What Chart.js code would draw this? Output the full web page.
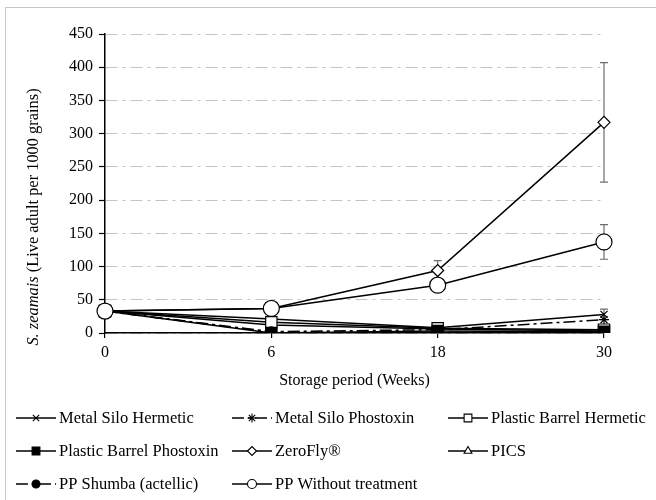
<!DOCTYPE html>
<html>
<head>
<meta charset="utf-8">
<script src="https://cdn.jsdelivr.net/npm/chart.js@4"></script>
<style>
  html, body { margin: 0; padding: 0; background: #fff; }
  #wrap { width: 656px; height: 500px; position: relative; }
</style>
</head>
<body>
<div id="wrap"><canvas id="c" width="656" height="500"></canvas></div>
<script>
// Storage period categories (weeks)
const weeks = ['0', '6', '18', '30'];

// Live S. zeamais adults per 1000 grains, by storage treatment
const metalSiloHermetic      = [33, 21, 8, 28];
const metalSiloPhostoxin     = [33, 2, 5, 20];
const plasticBarrelHermetic  = [33, 16, 7, 5];
const plasticBarrelPhostoxin = [33, 0, 3, 2];
const zeroFly                = [33, 37, 94, 317];
const pics                   = [33, 12, 6, 3];
const ppShumba               = [33, 1, 1, 1];
const ppWithoutTreatment     = [33, 37, 72, 137];

// Standard error (half-length of the error bars)
const metalSiloHermeticErr      = [0, 0, 0, 8];
const plasticBarrelPhostoxinErr = [0, 0, 4, 0];
const zeroFlyErr                = [0, 0, 15, 90];
const ppWithoutTreatmentErr     = [0, 9, 10, 26];

// Axis ticks
const yMin = 0, yMax = 450, yStep = 50;

const SERIF = '"Liberation Serif", "Times New Roman", serif';

const series = [
  { label: 'Metal Silo Hermetic', data: metalSiloHermetic, err: metalSiloHermeticErr,
    pointStyle: 'crossRot', radius: 5, legendRadius: 4.5, fill: '#000', dash: [] },
  { label: 'Metal Silo Phostoxin', data: metalSiloPhostoxin, err: null,
    pointStyle: 'star', radius: 5, legendRadius: 4.5, fill: '#000', dash: [12, 4, 3, 4] },
  { label: 'Plastic Barrel Hermetic', data: plasticBarrelHermetic, err: null,
    pointStyle: 'rect', radius: 8, legendRadius: 5.5, fill: '#fff', dash: [] },
  { label: 'Plastic Barrel Phostoxin', data: plasticBarrelPhostoxin, err: plasticBarrelPhostoxinErr,
    pointStyle: 'rect', radius: 8, legendRadius: 5.5, fill: '#000', dash: [] },
  { label: 'ZeroFly®', data: zeroFly, err: zeroFlyErr,
    pointStyle: 'rectRot', radius: 6, legendRadius: 4.5, fill: '#fff', dash: [] },
  { label: 'PICS', data: pics, err: null,
    pointStyle: 'triangle', radius: 5, legendRadius: 4.5, fill: '#fff', dash: [] },
  { label: 'PP Shumba (actellic)', data: ppShumba, err: null,
    pointStyle: 'circle', radius: 5.5, legendRadius: 4, fill: '#000', dash: [12, 4, 3, 4] },
  { label: 'PP Without treatment', data: ppWithoutTreatment, err: ppWithoutTreatmentErr,
    pointStyle: 'circle', radius: 8, legendRadius: 4.5, fill: '#fff', dash: [] }
];

// Drawing weight: open circles on top, filled squares above the rest
const drawOrder = [5, 5, 4, 2, 3, 4, 3, 1];

const datasets = series.map((s, i) => ({
  label: s.label,
  data: s.data,
  errors: s.err,
  legendRadius: s.legendRadius,
  borderColor: '#000',
  borderWidth: 1.5,
  borderDash: s.dash,
  pointStyle: s.pointStyle,
  pointRadius: s.radius,
  pointHoverRadius: s.radius,
  pointBackgroundColor: s.fill,
  pointBorderColor: '#000',
  pointBorderWidth: 1.2,
  tension: 0,
  fill: false,
  order: drawOrder[i]
}));

// Error bars, drawn behind the lines and markers
const errorBars = {
  id: 'errorBars',
  beforeDatasetsDraw(chart) {
    const { ctx, scales: { x, y } } = chart;
    ctx.save();
    ctx.strokeStyle = '#6e6e6e';
    ctx.lineWidth = 1.2;
    chart.data.datasets.forEach(ds => {
      if (!ds.errors) return;
      ds.data.forEach((v, j) => {
        const e = ds.errors[j];
        if (!e) return;
        const px = x.getPixelForValue(j);
        const top = y.getPixelForValue(v + e);
        const bot = y.getPixelForValue(Math.max(0, v - e));
        ctx.beginPath();
        ctx.moveTo(px, top); ctx.lineTo(px, bot);
        ctx.moveTo(px - 4, top); ctx.lineTo(px + 4, top);
        ctx.moveTo(px - 4, bot); ctx.lineTo(px + 4, bot);
        ctx.stroke();
      });
    });
    ctx.restore();
  }
};

// Frame, axis titles and the bottom legend
const decorations = {
  id: 'decorations',
  beforeDraw(chart) {
    const ctx = chart.ctx;
    ctx.save();
    ctx.fillStyle = '#fff';
    ctx.fillRect(0, 0, chart.width, chart.height);
    ctx.strokeStyle = '#c8c8c8';
    ctx.lineWidth = 1;
    ctx.strokeRect(5.5, 7.5, chart.width + 10, chart.height + 10);
    ctx.restore();
  },
  afterDraw(chart) {
    const { ctx, chartArea } = chart;
    ctx.save();
    ctx.fillStyle = '#000';

    // x-axis title
    ctx.font = '16px ' + SERIF;
    ctx.textAlign = 'center';
    ctx.textBaseline = 'middle';
    ctx.fillText('Storage period (Weeks)', (chartArea.left + chartArea.right) / 2, 381);

    // y-axis title (italic species name)
    const part1 = 'S. zeamais';
    const part2 = ' (Live adult per 1000 grains)';
    const titleFont = '16.4px ' + SERIF;
    ctx.font = 'italic ' + titleFont;
    const w1 = ctx.measureText(part1).width;
    ctx.font = titleFont;
    const w2 = ctx.measureText(part2).width;
    ctx.translate(34, 217);
    ctx.rotate(-Math.PI / 2);
    ctx.textAlign = 'left';
    const sx = -(w1 + w2) / 2;
    ctx.font = 'italic ' + titleFont;
    ctx.fillText(part1, sx, 0);
    ctx.font = titleFont;
    ctx.fillText(part2, sx + w1, 0);
    ctx.setTransform(1, 0, 0, 1, 0, 0);

    // legend: 3 columns, 3 rows
    const colX = [16, 232, 448];
    const rowY = [418, 451, 484];
    const lineLen = 40;
    ctx.font = '16.5px ' + SERIF;
    ctx.textAlign = 'left';
    ctx.textBaseline = 'middle';
    chart.data.datasets.forEach((ds, i) => {
      const cx = colX[i % 3];
      const cy = rowY[Math.floor(i / 3)];
      ctx.save();
      ctx.strokeStyle = '#000';
      ctx.lineWidth = 1.5;
      ctx.setLineDash(ds.borderDash || []);
      ctx.beginPath();
      ctx.moveTo(cx, cy);
      ctx.lineTo(cx + lineLen, cy);
      ctx.stroke();
      ctx.setLineDash([]);
      ctx.fillStyle = ds.pointBackgroundColor;
      ctx.strokeStyle = '#000';
      ctx.lineWidth = 1.1;
      Chart.helpers.drawPoint(ctx, {
        pointStyle: ds.pointStyle,
        radius: ds.legendRadius,
        borderWidth: 1.1,
        rotation: 0
      }, cx + lineLen / 2, cy);
      ctx.restore();
      ctx.fillStyle = '#000';
      ctx.fillText(ds.label, cx + lineLen + 3, cy + 1);
    });
    ctx.restore();
  }
};

new Chart(document.getElementById('c'), {
  type: 'line',
  data: { labels: weeks, datasets },
  options: {
    responsive: false,
    animation: false,
    events: [],
    layout: { padding: { top: 34, right: 52, bottom: 108, left: 0 } },
    plugins: {
      legend: { display: false },
      tooltip: { enabled: false }
    },
    scales: {
      x: {
        type: 'category',
        offset: false,
        afterFit(scale) { scale.height = 59; },
        grid: {
          display: true,
          drawOnChartArea: false,
          drawTicks: true,
          tickLength: 5,
          tickColor: '#000',
          lineWidth: 1.2
        },
        border: { display: true, color: '#000', width: 1.5 },
        ticks: {
          color: '#000',
          font: { family: SERIF, size: 16 },
          padding: 5,
          maxRotation: 0,
          autoSkip: false
        }
      },
      y: {
        min: yMin,
        max: yMax,
        afterFit(scale) { scale.width = 105; },
        grid: {
          color: '#c4c4c4',
          lineWidth: 1,
          drawTicks: true,
          tickLength: 6,
          tickColor: '#000',
          tickBorderDash: [],
          tickWidth: 1.2
        },
        border: { display: true, color: '#000', width: 1.5, dash: [12, 5, 3, 5] },
        ticks: {
          stepSize: yStep,
          color: '#000',
          font: { family: SERIF, size: 16 },
          padding: 6
        }
      }
    }
  },
  plugins: [errorBars, decorations]
});
</script>
</body>
</html>
